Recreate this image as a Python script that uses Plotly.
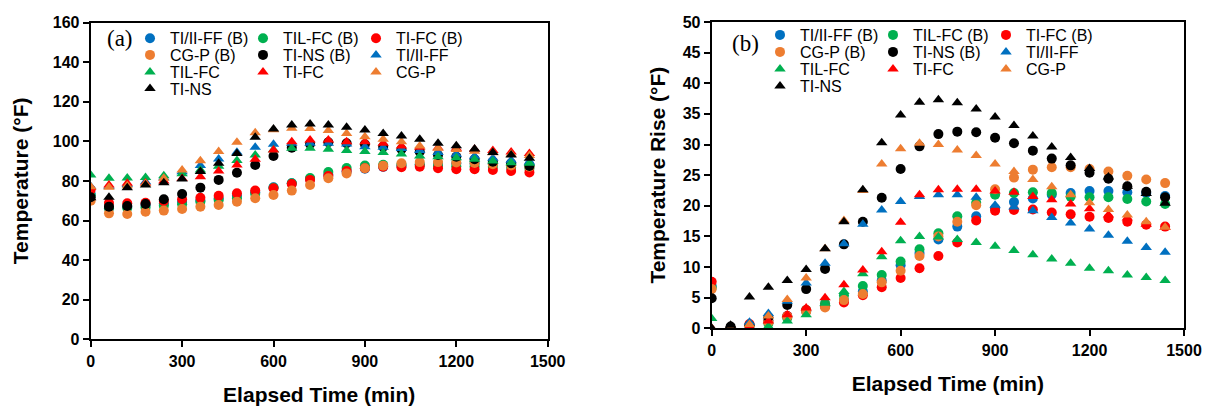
import plotly.graph_objects as go

# ---------------------------------------------------------------- data
time_min = [0, 60, 120, 180, 240, 300, 360, 420, 480, 540, 600, 660, 720,
            780, 840, 900, 960, 1020, 1080, 1140, 1200, 1260, 1320, 1380, 1440]

series_names = ["TI/II-FF (B)", "TIL-FC (B)", "TI-FC (B)", "CG-P (B)", "TI-NS (B)",
                "TI/II-FF", "TIL-FC", "TI-FC", "CG-P", "TI-NS"]
series_colors = ["#0070C0", "#00B050", "#FF0000", "#ED7D31", "#000000",
                 "#0070C0", "#00B050", "#FF0000", "#ED7D31", "#000000"]
series_symbols = ["circle"] * 5 + ["triangle-up"] * 5

# (a) measured temperature, °F
temp_tiff_b = [73.4, 66.5, 67.0, 67.8, 68.5, 69.3, 70.1, 71.1, 72.5, 74.3, 76.8, 78.8, 81.0,
               83.1, 84.8, 86.1, 87.1, 87.7, 88.3, 88.6, 88.9, 88.9, 88.7, 88.6, 88.1]
temp_tilfc_b = [72.6, 66.2, 66.3, 66.6, 67.5, 68.2, 69.5, 70.4, 71.2, 73.5, 76.5, 78.8, 81.5,
                84.5, 86.5, 87.8, 88.1, 88.2, 88.1, 87.5, 87.4, 87.4, 87.1, 86.7, 86.3]
temp_tifc_b = [75.5, 68.8, 68.7, 69.0, 69.8, 70.7, 71.5, 72.5, 73.7, 75.1, 76.3, 78.4, 80.5,
               82.5, 85.0, 86.4, 87.2, 86.9, 87.2, 86.4, 85.9, 85.9, 85.5, 85.0, 84.3]
temp_cgp_b = [70.0, 63.6, 63.3, 64.4, 65.0, 65.8, 67.0, 67.8, 69.5, 71.2, 72.9, 75.1, 77.9,
              81.3, 83.8, 86.4, 87.7, 88.9, 89.5, 89.5, 89.3, 89.0, 88.4, 87.8, 87.2]
temp_tins_b = [71.7, 67.0, 67.3, 68.3, 70.7, 73.4, 76.6, 80.5, 84.1, 88.0, 92.6, 96.8, 98.6,
               99.5, 99.0, 98.5, 97.3, 96.0, 94.7, 93.1, 92.2, 90.9, 89.7, 88.9, 87.5]
temp_tiff = [77.2, 77.2, 78.2, 79.6, 81.6, 84.6, 87.8, 91.0, 94.5, 97.0, 98.5, 99.0, 99.0,
             99.0, 98.6, 97.3, 97.0, 96.4, 95.3, 94.4, 93.4, 92.4, 91.4, 90.4, 89.6]
temp_tilfc = [83.0, 81.3, 81.5, 81.7, 82.6, 83.6, 85.5, 87.4, 90.3, 93.1, 95.7, 96.5, 96.5,
              96.0, 95.3, 94.8, 94.4, 93.6, 92.6, 92.2, 91.7, 90.9, 90.0, 89.2, 88.9]
temp_tifc = [76.8, 77.9, 78.8, 79.0, 80.0, 81.2, 82.1, 85.0, 88.0, 90.9, 95.6, 99.8, 100.7,
             100.7, 99.8, 99.8, 99.0, 97.6, 97.0, 96.8, 96.5, 96.0, 95.3, 94.6, 93.9]
temp_cgp = [77.0, 76.8, 77.5, 78.6, 81.3, 85.5, 90.2, 94.8, 99.5, 104.3, 105.8, 106.6, 106.5,
            105.4, 104.0, 102.3, 101.0, 99.8, 97.6, 96.5, 95.8, 95.0, 94.2, 93.5, 92.8]
temp_tins = [71.5, 71.7, 76.6, 77.9, 79.1, 81.0, 84.7, 88.9, 93.9, 102.0, 106.2, 108.2, 108.7,
             108.2, 107.1, 105.7, 104.0, 102.7, 101.0, 99.0, 97.8, 96.1, 94.4, 93.1, 91.4]

# (b) temperature rise, °F
rise_tiff_b = [6.9, 0.0, 0.5, 1.3, 2.0, 2.8, 3.6, 4.6, 6.0, 7.8, 10.3, 12.3, 14.5,
               16.6, 18.3, 19.6, 20.6, 21.2, 21.8, 22.1, 22.4, 22.4, 22.2, 22.1, 21.6]
rise_tilfc_b = [6.6, 0.0, 0.3, 0.8, 1.7, 3.0, 4.1, 5.4, 6.9, 8.7, 10.9, 12.9, 15.5,
                18.3, 20.5, 21.8, 22.1, 22.2, 22.1, 21.5, 21.4, 21.4, 21.1, 20.7, 20.3]
rise_tifc_b = [7.6, 0.0, 0.7, 1.2, 2.0, 3.0, 3.6, 4.2, 5.4, 6.7, 8.2, 9.8, 11.8,
               14.0, 17.6, 19.2, 19.3, 19.4, 18.9, 18.6, 18.2, 18.0, 17.4, 16.9, 16.6]
rise_cgp_b = [6.4, 0.0, 0.5, 1.0, 1.9, 2.7, 3.4, 4.6, 5.6, 7.5, 9.4, 11.8, 15.0,
              17.4, 20.1, 22.7, 24.6, 25.9, 26.3, 26.3, 26.0, 25.6, 24.9, 24.3, 23.7]
rise_tins_b = [4.9, 0.3, 0.5, 1.8, 3.8, 6.4, 9.7, 13.7, 17.4, 21.3, 26.0, 29.7, 31.7,
               32.1, 32.0, 31.1, 30.2, 29.0, 27.7, 26.6, 25.4, 24.4, 23.2, 22.3, 21.4]
rise_tiff = [0.0, 0.0, 1.0, 2.4, 4.4, 7.4, 10.6, 13.8, 17.0, 19.3, 20.7, 21.5, 21.8,
             21.8, 21.4, 20.1, 19.8, 19.2, 18.1, 17.2, 16.2, 15.2, 14.2, 13.2, 12.4]
rise_tilfc = [1.6, 0.0, 0.1, 0.3, 1.2, 2.2, 4.1, 6.0, 8.9, 11.7, 14.3, 15.0, 14.9,
              14.5, 14.0, 13.4, 12.7, 12.0, 11.3, 10.6, 9.8, 9.4, 8.7, 8.3, 7.8]
rise_tifc = [0.0, 0.0, 0.3, 1.2, 2.2, 3.3, 5.0, 7.1, 9.5, 12.5, 17.3, 21.8, 22.6,
             22.7, 22.7, 22.4, 22.2, 21.5, 21.0, 20.3, 19.5, 18.5, 18.0, 17.0, 16.5]
rise_cgp = [0.0, 0.0, 0.6, 2.0, 4.7, 8.2, 13.0, 17.6, 22.5, 26.8, 29.3, 30.2, 30.0,
            29.1, 28.2, 26.8, 25.6, 24.3, 23.1, 21.8, 20.5, 19.4, 18.5, 17.4, 16.5]
rise_tins = [0.0, 0.5, 5.1, 6.7, 7.8, 9.6, 13.0, 17.4, 22.6, 30.3, 34.8, 36.9, 37.3,
             36.8, 35.8, 34.5, 33.1, 31.4, 29.6, 27.9, 26.1, 24.7, 23.2, 22.0, 20.4]

temps = [temp_tiff_b, temp_tilfc_b, temp_tifc_b, temp_cgp_b, temp_tins_b,
         temp_tiff, temp_tilfc, temp_tifc, temp_cgp, temp_tins]
rises = [rise_tiff_b, rise_tilfc_b, rise_tifc_b, rise_cgp_b, rise_tins_b,
         rise_tiff, rise_tilfc, rise_tifc, rise_cgp, rise_tins]

# ---------------------------------------------------------------- layout helpers
W, H = 1215, 412
FONT = "Arial, Liberation Sans, sans-serif"


def fx(px):
    return px / W


def fy(px):
    return 1 - px / H


# legend rows: three entries per row, one legend per row
row_of = [0, 0, 0, 1, 1, 1, 2, 2, 2, 3]

fig = go.Figure()
for panel, (data, xa, ya) in enumerate([(temps, "x", "y"), (rises, "x2", "y2")]):
    for i, name in enumerate(series_names):
        leg_idx = panel * 4 + row_of[i] + 1
        fig.add_trace(go.Scatter(
            x=time_min, y=data[i], mode="markers", name=name,
            xaxis=xa, yaxis=ya,
            marker=dict(symbol=series_symbols[i], size=10, color=series_colors[i],
                        line=dict(width=0)),
            legend="legend" if leg_idx == 1 else f"legend{leg_idx}",
            hoverinfo="x+y+name",
        ))

axis_common = dict(
    showline=True, linewidth=2, linecolor="black", mirror=True,
    ticks="outside", ticklen=6, tickwidth=1.5, tickcolor="black",
    showgrid=False, zeroline=False,
    tickfont=dict(family=FONT, size=16, color="black", weight="bold"),
)
title_font = dict(family=FONT, size=21, color="black", weight="bold")

layout = dict(
    width=W, height=H,
    margin=dict(l=0, r=0, t=0, b=0, autoexpand=False),
    paper_bgcolor="white", plot_bgcolor="white",
    xaxis=dict(domain=[fx(90.7), fx(547.7)], range=[0, 1500], dtick=300, anchor="y",
               title=dict(text="Elapsed Time (min)", font=title_font, standoff=19),
               **axis_common),
    yaxis=dict(domain=[fy(339.3), fy(22.5)], range=[0, 160], dtick=20, anchor="x",
               title=dict(text="Temperature (°F)", font=title_font, standoff=18),
               **axis_common),
    xaxis2=dict(domain=[fx(711.7), fx(1184)], range=[0, 1500], dtick=300, anchor="y2",
                title=dict(text="Elapsed Time (min)", font=title_font, standoff=19),
                **axis_common),
    yaxis2=dict(domain=[fy(328.3), fy(22.0)], range=[0, 50], dtick=5, anchor="x2",
                title=dict(text="Temperature Rise (°F)", font=title_font, standoff=11),
                **axis_common),
    showlegend=True,
)

legend_rows_y = [[38.3, 55.0, 72.0, 88.5], [35.0, 52.0, 69.0, 86.0]]
legend_left_x = [130, 760]
for panel in range(2):
    for r in range(4):
        key = "legend" if (panel == 0 and r == 0) else f"legend{panel * 4 + r + 1}"
        layout[key] = dict(
            orientation="h", x=fx(legend_left_x[panel]), xanchor="left",
            y=fy(legend_rows_y[panel][r]), yanchor="middle",
            bgcolor="rgba(0,0,0,0)", borderwidth=0,
            entrywidth=68, entrywidthmode="pixels",
            font=dict(family=FONT, size=16, color="black"),
            itemclick=False, itemdoubleclick=False,
        )

fig.update_layout(**layout)

fig.add_annotation(text="(a)", x=fx(120), y=fy(38.5), xref="paper", yref="paper",
                   showarrow=False, xanchor="center", yanchor="middle",
                   font=dict(family="Times New Roman, Liberation Serif, serif", size=23,
                             color="black"))
fig.add_annotation(text="(b)", x=fx(745), y=fy(44), xref="paper", yref="paper",
                   showarrow=False, xanchor="center", yanchor="middle",
                   font=dict(family="Times New Roman, Liberation Serif, serif", size=23,
                             color="black"))

fig.write_html("out.html")
